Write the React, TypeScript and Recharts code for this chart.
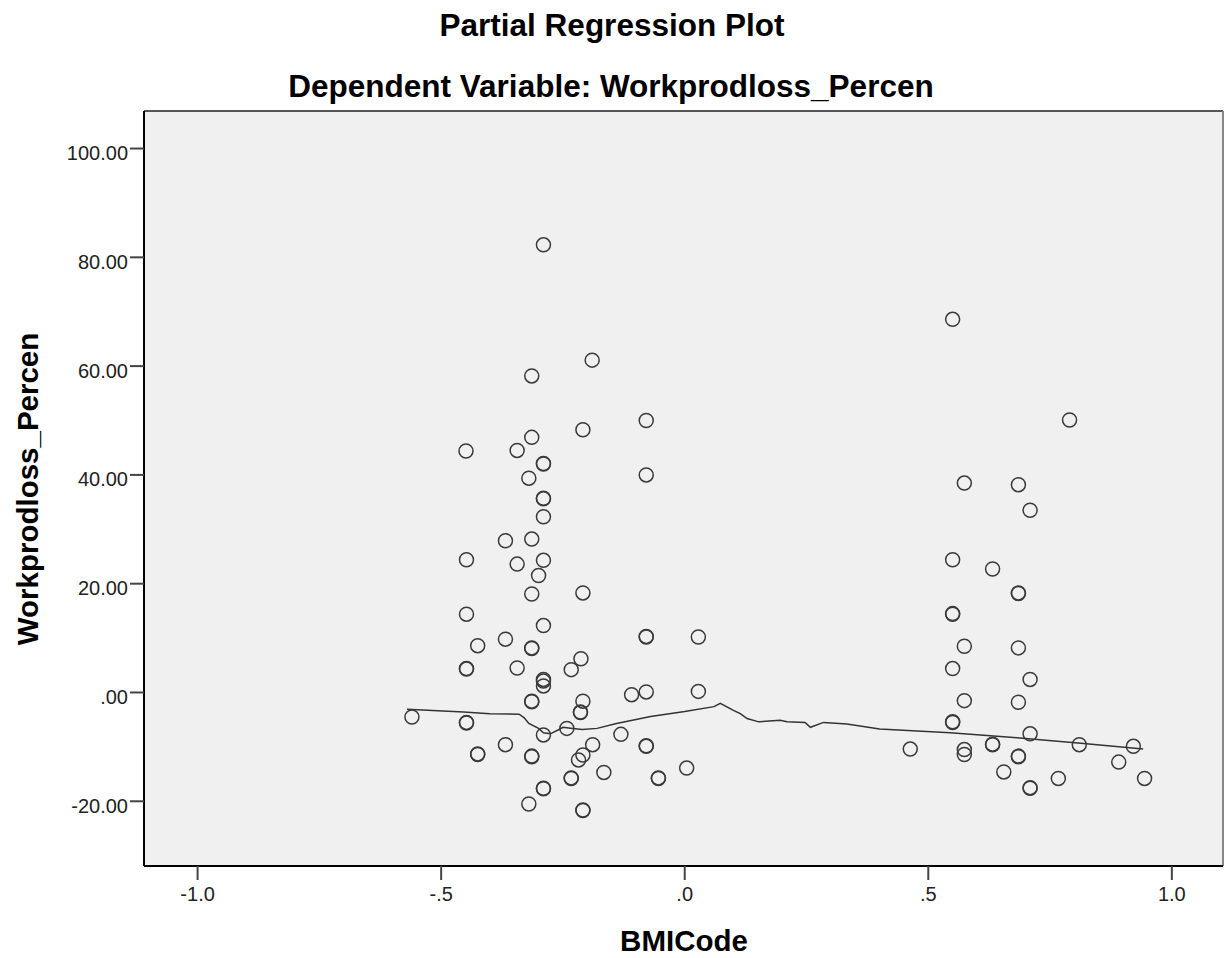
import React from "react";
import {
  ScatterChart,
  Scatter,
  XAxis,
  YAxis,
  ReferenceArea,
  ReferenceLine,
} from "recharts";

const bmiCode = [
  -0.56, -0.449, -0.448, -0.448, -0.448, -0.448, -0.448, -0.448, -0.425, -0.425,
  -0.425, -0.368, -0.368, -0.368, -0.344, -0.344, -0.344, -0.32, -0.32, -0.314,
  -0.314, -0.314, -0.314, -0.314, -0.314, -0.314, -0.314, -0.314, -0.314, -0.3,
  -0.29, -0.29, -0.29, -0.29, -0.29, -0.29, -0.29, -0.29, -0.29, -0.29,
  -0.29, -0.29, -0.29, -0.29, -0.242, -0.233, -0.233, -0.233, -0.218, -0.214,
  -0.214, -0.213, -0.209, -0.209, -0.209, -0.209, -0.209, -0.209, -0.19, -0.189,
  -0.166, -0.131, -0.109, -0.079, -0.079, -0.079, -0.079, -0.079, -0.079, -0.079,
  -0.054, -0.054, 0.004, 0.028, 0.028,
  0.463, 0.55, 0.55, 0.55, 0.55, 0.55, 0.55, 0.55, 0.574, 0.574,
  0.574, 0.574, 0.574, 0.632, 0.632, 0.632, 0.655, 0.685, 0.685, 0.685,
  0.685, 0.685, 0.685, 0.685, 0.709, 0.709, 0.709, 0.709, 0.709, 0.767,
  0.79, 0.81, 0.891, 0.921, 0.944,
];

const workprodLoss = [
  -4.5, 44.4, 24.4, 14.4, 4.3, 4.4, -5.6, -5.5, 8.6, -11.4,
  -11.3, 27.9, 9.8, -9.6, 44.5, 23.6, 4.5, 39.4, -20.5, 58.2,
  46.9, 28.2, 18.1, 8.1, 8.2, -1.7, -1.6, -11.8, -11.7, 21.5,
  82.3, 42.1, 42.0, 35.7, 35.6, 32.3, 24.3, 12.3, 2.4, 2.1,
  1.2, -7.8, -17.7, -17.6, -6.6, 4.2, -15.8, -15.7, -12.4, -3.7,
  -3.6, 6.2, 48.3, 18.3, -1.6, -11.5, -21.7, -21.6, 61.1, -9.6,
  -14.7, -7.7, -0.4, 50.0, 40.0, 10.2, 10.3, 0.1, -9.9, -9.8,
  -15.8, -15.7, -13.9, 10.2, 0.2,
  -10.4, 68.6, 24.4, 14.4, 14.5, 4.4, -5.5, -5.4, 38.5, 8.5,
  -1.5, -10.5, -11.4, 22.7, -9.6, -9.5, -14.6, 38.2, 18.2, 18.3,
  8.2, -1.8, -11.8, -11.7, 33.5, 2.4, -7.6, -17.6, -17.5, -15.8,
  50.1, -9.6, -12.8, -9.9, -15.8,
];

// loess fit line
const fitX = [
  -0.57, -0.454, -0.4, -0.34, -0.33, -0.32, -0.3, -0.29, -0.276, -0.26,
  -0.25, -0.23, -0.21, -0.18, -0.14, -0.07, 0.0, 0.06, 0.073, 0.1,
  0.114, 0.128, 0.152, 0.196, 0.21, 0.247, 0.258, 0.285, 0.333, 0.4,
  0.545, 0.682, 0.819, 0.941,
];
const fitY = [
  -3.1, -3.6, -3.9, -4.0, -4.6, -5.7, -6.6, -7.4, -7.6, -6.9,
  -6.4, -6.6, -6.8, -6.6, -5.7, -4.4, -3.5, -2.6, -2.0, -3.3,
  -3.9, -4.8, -5.4, -5.1, -5.4, -5.5, -6.4, -5.5, -5.8, -6.7,
  -7.4, -8.3, -9.4, -10.4,
];

const xTicks = [-1, -0.5, 0, 0.5, 1];
const xTickLabels = ["-1.0", "-.5", ".0", ".5", "1.0"];
const yTicks = [-20, 0, 20, 40, 60, 80, 100];
const yTickLabels = ["-20.00", ".00", "20.00", "40.00", "60.00", "80.00", "100.00"];

const X_DOMAIN: [number, number] = [-1.11, 1.105];
const Y_DOMAIN: [number, number] = [-31.9, 106.9];
const FONT = "'Liberation Sans', Arial, sans-serif";

function XTick(props: any) {
  const { x, y, payload } = props;
  const label = xTickLabels[xTicks.indexOf(payload.value)];
  return (
    <text x={x} y={y + 19} textAnchor="middle" fontSize={20} fill="#222" fontFamily={FONT}>
      {label}
    </text>
  );
}

function YTick(props: any) {
  const { x, y, payload } = props;
  const label = yTickLabels[yTicks.indexOf(payload.value)];
  return (
    <text x={x} y={y + 11.5} textAnchor="end" fontSize={20} fill="#222" fontFamily={FONT}>
      {label}
    </text>
  );
}

function Ring(props: any) {
  return (
    <circle cx={props.cx} cy={props.cy} r={7} fill="none" stroke="#3a3a3a" strokeWidth={1.5} />
  );
}

export default function App() {
  const points = bmiCode.map((x, i) => ({ x, y: workprodLoss[i] }));
  const fit = fitX.map((x, i) => ({ x, y: fitY[i] }));

  return (
    <div
      style={{
        position: "absolute",
        left: 0,
        top: 0,
        width: 1224,
        height: 958,
        background: "#fff",
      }}
    >
      <ScatterChart
        width={1224}
        height={958}
        margin={{ top: 111, right: 1, bottom: 0, left: 0 }}
      >
        <ReferenceArea
          x1={X_DOMAIN[0]}
          x2={X_DOMAIN[1]}
          y1={Y_DOMAIN[0]}
          y2={Y_DOMAIN[1]}
          fill="#f0f0f0"
          fillOpacity={1}
          stroke="none"
        />
        <ReferenceLine y={Y_DOMAIN[1]} stroke="#555" strokeWidth={2} />
        <ReferenceLine x={X_DOMAIN[1]} stroke="#888" strokeWidth={2} />
        <XAxis
          type="number"
          dataKey="x"
          domain={X_DOMAIN}
          ticks={xTicks}
          allowDataOverflow
          interval={0}
          height={92}
          axisLine={{ stroke: "#000", strokeWidth: 2 }}
          tickLine={{ stroke: "#444", strokeWidth: 2 }}
          tickSize={14}
          tickMargin={2}
          tick={<XTick />}
        />
        <YAxis
          type="number"
          dataKey="y"
          domain={Y_DOMAIN}
          ticks={yTicks}
          allowDataOverflow
          interval={0}
          width={144}
          axisLine={{ stroke: "#000", strokeWidth: 2 }}
          tickLine={{ stroke: "#444", strokeWidth: 2 }}
          tickSize={14}
          tickMargin={2}
          tick={<YTick />}
        />
        <Scatter
          data={fit}
          line={{ stroke: "#333", strokeWidth: 1.5 }}
          lineType="joint"
          shape={() => <g />}
          isAnimationActive={false}
        />
        <Scatter data={points} shape={<Ring />} isAnimationActive={false} />
      </ScatterChart>

      <svg
        width={1224}
        height={958}
        style={{ position: "absolute", left: 0, top: 0, pointerEvents: "none" }}
      >
        <g fontFamily={FONT} fontWeight="bold" fill="#000" textAnchor="middle">
          <text x={612} y={36} fontSize={31.5}>
            Partial Regression Plot
          </text>
          <text x={611} y={97} fontSize={31.5}>
            Dependent Variable: Workprodloss_Percen
          </text>
          <text x={684} y={951} fontSize={29.5}>
            BMICode
          </text>
          <text x={38} y={489} fontSize={29.5} transform="rotate(-90 38 489)">
            Workprodloss_Percen
          </text>
        </g>
      </svg>
    </div>
  );
}
